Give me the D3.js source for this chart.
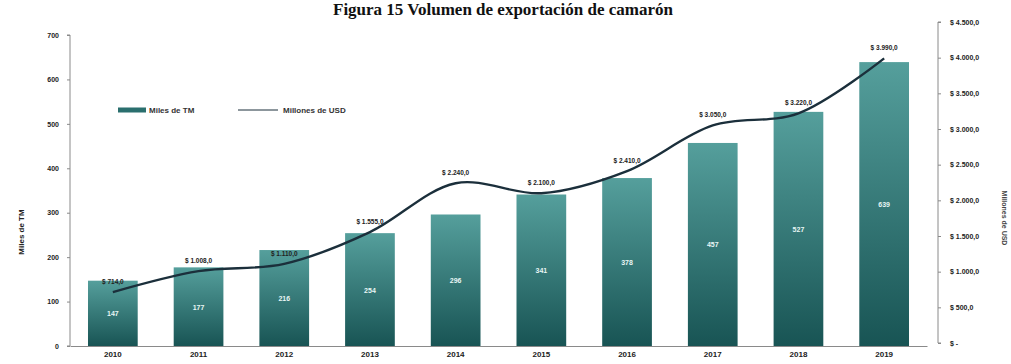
<!DOCTYPE html>
<html>
<head>
<meta charset="utf-8">
<script src="https://cdn.jsdelivr.net/npm/d3@7"></script>
<style>
  html, body { margin: 0; padding: 0; background: #fff; }
  svg { display: block; font-family: "Liberation Sans", Arial, sans-serif; }
  .axis path, .axis line { stroke: #8a8a8a; }
  .axis text { fill: #222; font-weight: bold; font-size: 7px; }
</style>
</head>
<body>
<div id="chart"></div>
<script>
// ── Data ────────────────────────────────────────────────────────────
const years   = ['2010', '2011', '2012', '2013', '2014', '2015', '2016', '2017', '2018', '2019'];
const volumen = [147, 177, 216, 254, 296, 341, 378, 457, 527, 639];         // Miles de TM
const usd     = [714, 1008, 1110, 1555, 2240, 2100, 2410, 3050, 3220, 3990]; // Millones de USD
const leftTicks  = [0, 100, 200, 300, 400, 500, 600, 700];
const rightTicks = [0, 500, 1000, 1500, 2000, 2500, 3000, 3500, 4000, 4500];

const W = 1011, H = 364;
const m = { top: 22, right: 84, bottom: 18, left: 70 };

const svg = d3.select('#chart').append('svg')
  .attr('width', W).attr('height', H);

// Title (sits right at the top edge, as in the source)
svg.append('text')
  .attr('x', 503).attr('y', 15)
  .attr('text-anchor', 'middle')
  .style('font-family', '"Liberation Serif", "Times New Roman", serif')
  .style('font-weight', 'bold')
  .style('font-size', '17px')
  .attr('fill', '#111')
  .text('Figura 15 Volumen de exportación de camarón');

const x = d3.scaleBand()
  .domain(years)
  .range([m.left, W - m.right])
  .paddingInner(0.42).paddingOuter(0.21);

const yL = d3.scaleLinear().domain([0, 700]).range([346, 35]);
const yR = d3.scaleLinear().domain([0, 4500]).range([343, 22]);

// Bar gradient
const defs = svg.append('defs');
const grad = defs.append('linearGradient')
  .attr('id', 'barGrad').attr('x1', 0).attr('y1', 0).attr('x2', 0).attr('y2', 1);
grad.append('stop').attr('offset', '0%').attr('stop-color', '#559f9c');
grad.append('stop').attr('offset', '100%').attr('stop-color', '#185454');

// ── Axes ────────────────────────────────────────────────────────────
const fmtUsd = v => v === 0 ? '$ -' :
  '$ ' + d3.format(',.1f')(v).replace(/,/g, '#').replace('.', ',').replace(/#/g, '.');

svg.append('g').attr('class', 'axis')
  .attr('transform', `translate(${m.left},0)`)
  .call(d3.axisLeft(yL).tickValues(leftTicks).tickSize(3).tickPadding(8))
  .call(g => g.select('.domain').attr('d', `M-3,${yL(0)}H0V${yL(700)}H-3`));

svg.append('g').attr('class', 'axis')
  .attr('transform', `translate(${W - m.right + 11},0)`)
  .call(d3.axisRight(yR).tickValues(rightTicks).tickFormat(fmtUsd).tickSize(3).tickPadding(9))
  .call(g => g.select('.domain').attr('d', `M3,${yR(0)}H0V${yR(4500)}H3`))
  .call(g => g.selectAll('text').attr('text-anchor', 'start'));

svg.append('g').attr('class', 'axis')
  .attr('transform', `translate(0,${yL(0)})`)
  .call(d3.axisBottom(x).tickSize(0).tickPadding(5))
  .call(g => g.select('.domain').attr('stroke', '#bbb'))
  .call(g => g.selectAll('text').style('font-size', '8px'));

// Axis titles
svg.append('text')
  .attr('transform', 'translate(24,232) rotate(-90)')
  .attr('text-anchor', 'middle')
  .style('font-size', '8px').style('font-weight', 'bold').attr('fill', '#222')
  .text('Miles de TM');

svg.append('text')
  .attr('transform', 'translate(1002,218) rotate(90)')
  .attr('text-anchor', 'middle')
  .style('font-size', '7px').style('font-weight', 'bold').attr('fill', '#444')
  .text('Millones de USD');

// ── Bars ────────────────────────────────────────────────────────────
svg.selectAll('rect.bar')
  .data(years)
  .join('rect')
    .attr('class', 'bar')
    .attr('x', d => x(d))
    .attr('width', x.bandwidth())
    .attr('y', (d, i) => yL(volumen[i]))
    .attr('height', (d, i) => yL(0) - yL(volumen[i]))
    .attr('fill', 'url(#barGrad)');

svg.selectAll('text.barlab')
  .data(years)
  .join('text')
    .attr('class', 'barlab')
    .attr('x', d => x(d) + x.bandwidth() / 2)
    .attr('y', (d, i) => (yL(volumen[i]) + yL(0)) / 2 + 3)
    .attr('text-anchor', 'middle')
    .style('font-size', '7px').style('font-weight', 'bold')
    .attr('fill', '#e8f6f5')
    .text((d, i) => volumen[i]);

// ── Line ────────────────────────────────────────────────────────────
const cx = d => x(d) + x.bandwidth() / 2;
const line = d3.line()
  .x((d, i) => cx(years[i]))
  .y(d => yR(d))
  .curve(d3.curveCatmullRom.alpha(0.5));

svg.append('path')
  .datum(usd)
  .attr('d', line)
  .attr('fill', 'none')
  .attr('stroke', '#1b2f3b')
  .attr('stroke-width', 2.4);

svg.selectAll('text.linelab')
  .data(years)
  .join('text')
    .attr('class', 'linelab')
    .attr('x', d => cx(d))
    .attr('y', (d, i) => yR(usd[i]) - 8)
    .attr('text-anchor', 'middle')
    .style('font-size', '6.5px').style('font-weight', 'bold')
    .attr('fill', '#222')
    .text((d, i) => fmtUsd(usd[i]));

// ── Legend ──────────────────────────────────────────────────────────
const lg = svg.append('g').attr('transform', 'translate(118,110)');
lg.append('rect').attr('x', 0).attr('y', -2.5).attr('width', 28).attr('height', 5).attr('fill', '#2a6f6e');
lg.append('text').attr('x', 31).attr('y', 2.5)
  .style('font-size', '8px').style('font-weight', 'bold').attr('fill', '#333')
  .text('Miles de TM');
lg.append('line').attr('x1', 120).attr('x2', 160).attr('y1', 0).attr('y2', 0)
  .attr('stroke', '#1b2f3b').attr('stroke-width', 1);
lg.append('text').attr('x', 165).attr('y', 2.5)
  .style('font-size', '8px').style('font-weight', 'bold').attr('fill', '#333')
  .text('Millones de USD');
</script>
</body>
</html>
